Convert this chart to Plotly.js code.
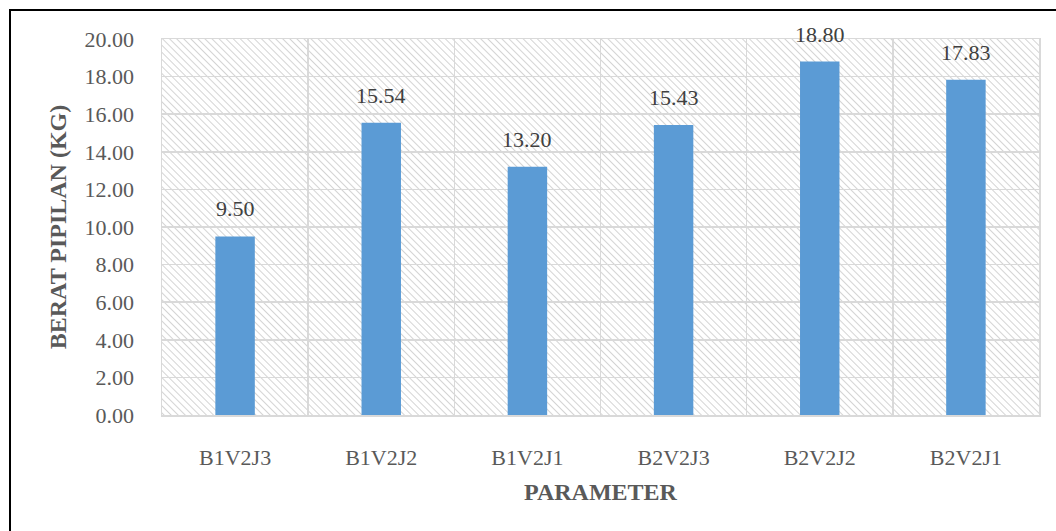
<!DOCTYPE html>
<html>
<head>
<meta charset="utf-8">
<script src="https://cdn.plot.ly/plotly-3.0.1.min.js"></script>
<style>
html,body{margin:0;padding:0;background:#fff;}
#chart{width:1056px;height:531px;}
</style>
</head>
<body>
<div id="chart"></div>
<script>
const categories = ["B1V2J3", "B1V2J2", "B1V2J1", "B2V2J3", "B2V2J2", "B2V2J1"];
const values = [9.50, 15.54, 13.20, 15.43, 18.80, 17.83];
const yTitle = "BERAT PIPILAN (KG)";
const xTitle = "PARAMETER";

const FONT = "Liberation Serif, DejaVu Serif, serif";

const hatchSvg =
  '<svg xmlns="http://www.w3.org/2000/svg" width="877" height="376">' +
  '<defs><pattern id="h" width="5" height="5" patternUnits="userSpaceOnUse" patternTransform="rotate(-45)">' +
  '<rect width="5" height="5" fill="#ffffff"/>' +
  '<line x1="0" y1="0" x2="0" y2="5" stroke="#d4d4d4" stroke-width="2"/>' +
  '</pattern></defs>' +
  '<rect width="877" height="376" fill="url(#h)"/></svg>';
const hatchUri = 'data:image/svg+xml;base64,' + btoa(hatchSvg);

const trace = {
  type: 'bar',
  x: categories,
  y: values,
  marker: {color: '#5b9bd5'},
  hoverinfo: 'x+y'
};

const annotations = categories.map((c, i) => ({
  x: c, y: values[i], xref: 'x', yref: 'y',
  text: values[i].toFixed(2),
  showarrow: false, yanchor: 'bottom', yshift: 13,
  font: {family: FONT, size: 22, color: '#404040'}
}));

const layout = {
  width: 1056, height: 531,
  margin: {l: 162, r: 17, t: 39, b: 116},
  paper_bgcolor: '#ffffff',
  plot_bgcolor: 'rgba(0,0,0,0)',
  bargap: 0.73,
  showlegend: false,
  font: {family: FONT, size: 22, color: '#595959'},
  xaxis: {
    type: 'category',
    tickson: 'boundaries',
    showgrid: true, gridcolor: '#d9d9d9', gridwidth: 1.5,
    showline: true, linecolor: '#d9d9d9', linewidth: 1.5, mirror: true,
    ticks: '', ticklabelstandoff: 22,
    tickfont: {family: FONT, size: 22, color: '#595959'},
    title: {text: xTitle, standoff: 14, font: {family: FONT, size: 24, color: '#595959', weight: 'bold'}}
  },
  yaxis: {
    range: [0, 20], dtick: 2, tickformat: '.2f',
    showgrid: true, gridcolor: '#d9d9d9', gridwidth: 1.5,
    showline: true, linecolor: '#d9d9d9', linewidth: 1.5, mirror: true,
    zeroline: false,
    ticks: '', ticklabelstandoff: 22,
    tickfont: {family: FONT, size: 22, color: '#595959'},
    title: {text: yTitle, standoff: 11, font: {family: FONT, size: 24, color: '#595959', weight: 'bold'}}
  },
  images: [{
    source: hatchUri, xref: 'paper', yref: 'paper',
    x: 0, y: 1, sizex: 1, sizey: 1, xanchor: 'left', yanchor: 'top',
    sizing: 'stretch', layer: 'below'
  }],
  shapes: [{
    type: 'rect', xref: 'paper', yref: 'paper',
    x0: (10 - 162) / 877, x1: (1070 - 162) / 877,
    y0: (415 - 545) / 376, y1: (415 - 10) / 376,
    line: {color: '#000000', width: 2}, fillcolor: 'rgba(0,0,0,0)', layer: 'above'
  }],
  annotations: annotations
};

Plotly.newPlot('chart', [trace], layout, {staticPlot: true, displayModeBar: false});
</script>
</body>
</html>
